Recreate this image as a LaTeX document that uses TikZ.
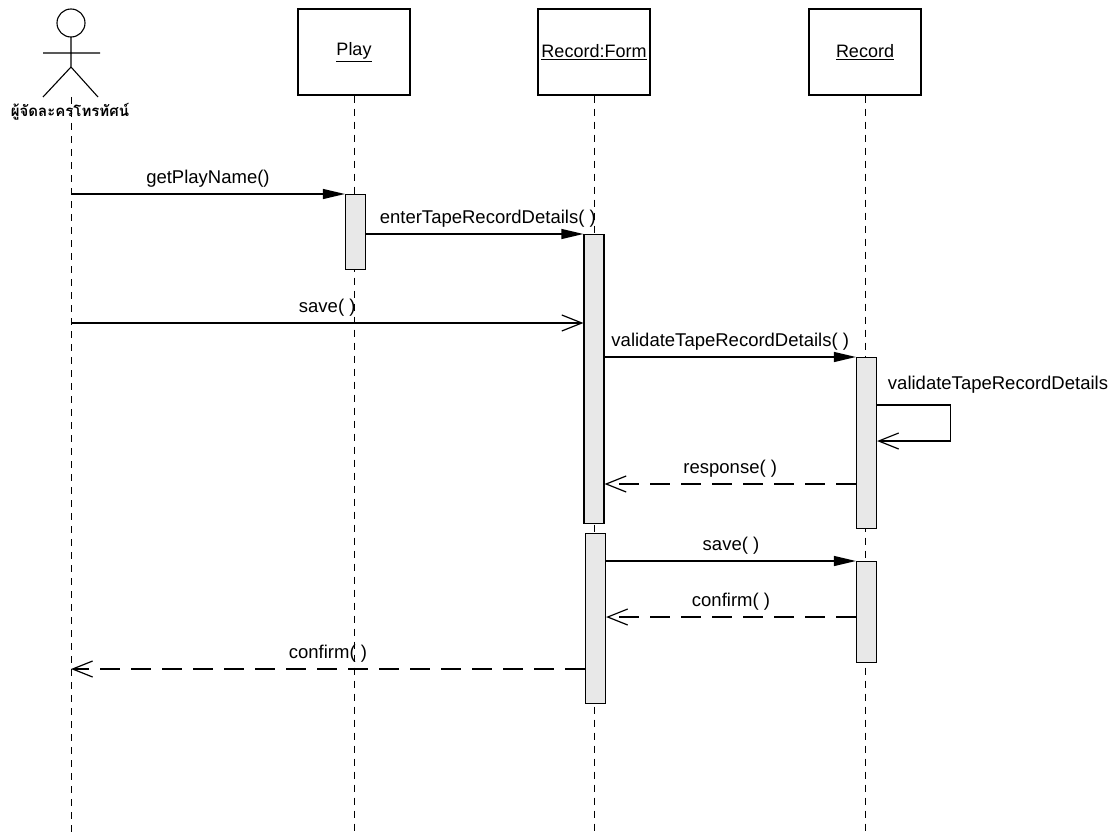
\documentclass[tikz,border=0pt]{standalone}
\usepackage{fontspec}
\setmainfont{Liberation Sans}
\newfontfamily\thaifont[Script=Thai]{Loma}
\usetikzlibrary{arrows.meta,calc,positioning}
\tikzset{object box/.style={draw,
    line width=1.1pt,
    minimum width=112pt,
    minimum height=86pt,
    inner sep=0pt,
    font=\fontsize{18}{21}\selectfont
  },
  lifeline/.style={line width=0.9pt, dash pattern=on 7pt off 6pt},
  activation/.style={draw, line width=1.2pt, fill=gray!18,
    minimum width=20pt, inner sep=0pt, anchor=north},
  call/.style={line width=1.2pt, -{Triangle[length=22pt,width=10pt]}},
  open call/.style={line width=1.2pt, -{Straight Barb[length=20pt,width=16pt]}},
  reply/.style={open call, dash pattern=on 20pt off 11pt},
  msg/.style={font=\fontsize{18.5}{21}\selectfont, above=3pt}
}
\begin{document}
\begin{tikzpicture}[x=1pt,y=-1pt]
    \useasboundingbox (0,0) rectangle (1118,832);
    \coordinate (bottom) at (0,832);
    % actor
    \draw[line width=1.1pt] (71,23) circle (14pt);
    \draw[line width=1.1pt] (43,53) -- (100,53) (71,37) -- (71,67)
        (43,97) -- (71,67) -- (98,97);
    \coordinate (actor) at (71,97);
    \node[font=\thaifont\bfseries\fontsize{15}{18}\selectfont] (actorname) at (70,112) {ผู้จัดละครโทรทัศน์};
    % objects
    \node[object box] (play) at (354,52) {\raisebox{-5pt}{\underline{Play}}};
    \node[object box] (form) at (594,52) {\raisebox{-5pt}{\underline{Record:Form}}};
    \node[object box] (record) at (865,52) {\raisebox{-5pt}{\underline{Record}}};
    % lifelines
    \draw[lifeline] (actor) -- (actor |- bottom);
    \foreach \obj in {play,form,record}
        \draw[lifeline] (\obj.south) -- (\obj.south |- bottom);
    % activations
    \node[activation, minimum height=75pt] (playact) at (355.5,194) {};
    \node[activation, minimum height=289pt] (formact1) at (594,234) {};
    \node[activation, minimum height=170pt] (formact2) at (595.5,533) {};
    \node[activation, minimum height=171pt] (recact1) at (866.5,357) {};
    \node[activation, minimum height=101pt] (recact2) at (866.5,561) {};
    % messages
    \draw[call] (actor |- playact.north) -- node[msg] {getPlayName()} (playact.north west);
    \draw[call] (playact.east |- formact1.north) -- node[msg, pos=0.56] {enterTapeRecordDetails( )} (formact1.north west);
    \draw[open call] (actor |- 0,323) -- node[msg] {save( )} (formact1.west |- 0,323);
    \draw[call] (formact1.east |- recact1.north) -- node[msg] {validateTapeRecordDetails( )} (recact1.north west);
    \draw[open call] (recact1.east |- 0,405) -- ++(73,0) -- ++(0,36) -- (recact1.east |- 0,441);
    \node[font=\fontsize{18.5}{21}\selectfont] (selfmsg) at (998,385) {validateTapeRecordDetails};
    \draw[reply] (recact1.west |- 0,484) -- node[msg] {response( )} (formact1.east |- 0,484);
    \draw[call] (formact2.east |- recact2.north) -- node[msg] {save( )} (recact2.north west);
    \draw[reply] (recact2.west |- 0,617) -- node[msg] {confirm( )} (formact2.east |- 0,617);
    \draw[reply] (formact2.west |- 0,669) -- node[msg, pos=0.5] {confirm( )} (actor |- 0,669);
\end{tikzpicture}
\end{document}
